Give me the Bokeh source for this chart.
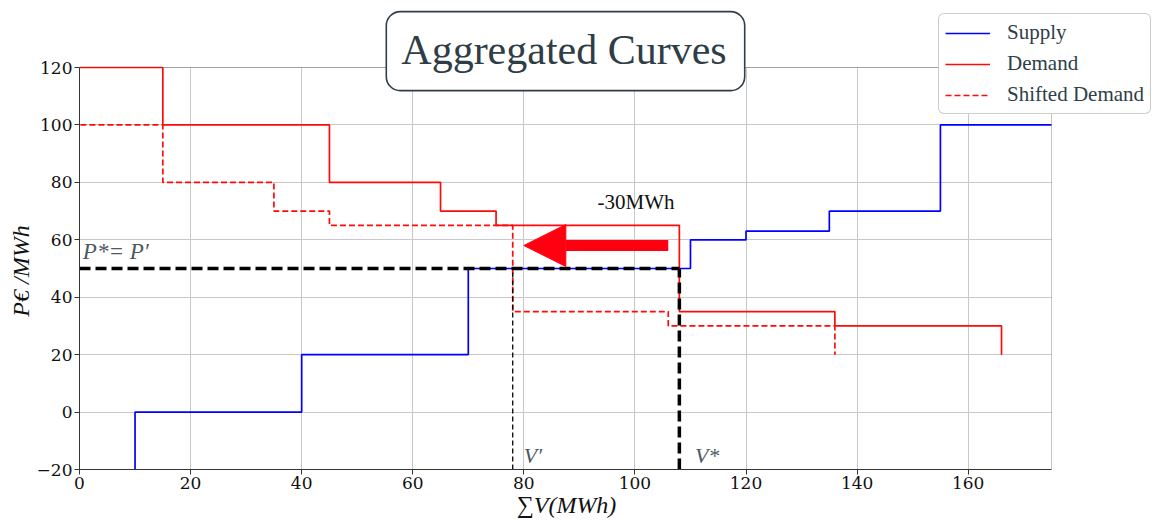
import numpy as np
from bokeh.plotting import figure
from bokeh.models import (Label, Legend, LegendItem, Arrow, NormalHead,
                          FixedTicker, Range1d, BoxAnnotation)
from bokeh.embed import file_html
from bokeh.resources import INLINE

# ---------------- data ----------------
supply_edges = [10, 40, 70, 110, 120, 135, 155, 175]
supply_prices = [0, 20, 50, 60, 63, 70, 100]
supply_floor = -20

demand_edges = [0, 15, 45, 65, 75, 108, 136, 166]
demand_prices = [120, 100, 80, 70, 65, 35, 30]
demand_floor = 20

shift = 30
shifted_edges = [e - shift for e in demand_edges]

p_star = 50
v_star = 108
v_prime = 78

arrow_start = 106
arrow_end = 80
arrow_y = 58
shift_label = "-30MWh"
shift_label_x = 100.2
shift_label_y = 73

x_min, x_max = 0, 175
y_min, y_max = -20, 120
x_ticks = [0, 20, 40, 60, 80, 100, 120, 140, 160]
y_ticks = [-20, 0, 20, 40, 60, 80, 100, 120]
y_tick_labels = ["\u221220", "0", "20", "40", "60", "80", "100", "120"]

SERIF = "Liberation Serif"
SERIF2 = "DejaVu Serif"

# ---------------- layout (pixels) ----------------
W, H = 1161, 524
axes_left, axes_right, axes_top, axes_bottom = 79, 1051, 67, 469
px_per_x = (axes_right - axes_left) / (x_max - x_min)
px_per_y = (axes_bottom - axes_top) / (y_max - y_min)
view_x_end = x_max + (W - axes_right) / px_per_x
view_y_end = y_max + axes_top / px_per_y


def step_path(edges, prices, start_floor=None, end_floor=None):
    xs, ys = [], []
    if start_floor is not None:
        xs.append(edges[0]); ys.append(start_floor)
    for i, pr in enumerate(prices):
        xs += [edges[i], edges[i + 1]]
        ys += [pr, pr]
    if end_floor is not None:
        xs.append(edges[-1]); ys.append(end_floor)
    return xs, ys


p = figure(width=W, height=H, x_range=Range1d(x_min, view_x_end),
           y_range=Range1d(y_min, view_y_end),
           output_backend="svg", toolbar_location=None,
           min_border_left=axes_left, min_border_right=0, min_border_top=0,
           min_border_bottom=H - axes_bottom)
p.background_fill_color = "white"
p.border_fill_color = "white"
p.outline_line_color = None

p.xgrid.cross_bounds = (y_min, y_max)
p.ygrid.cross_bounds = (x_min, x_max)
for g in (p.xgrid, p.ygrid):
    g.grid_line_color = "#c8c8c8"
    g.grid_line_width = 1

p.xaxis.bounds = (x_min, x_max)
p.yaxis.bounds = (y_min, y_max)
p.xaxis.ticker = FixedTicker(ticks=x_ticks)
p.yaxis.ticker = FixedTicker(ticks=y_ticks)
p.yaxis.major_label_overrides = {t: l for t, l in zip(y_ticks, y_tick_labels)}
for ax in (p.xaxis, p.yaxis):
    ax.minor_tick_line_color = None
    ax.major_tick_in = 0
    ax.major_tick_out = 5
    ax.major_tick_line_color = "#333333"
    ax.axis_line_color = "#333333"
    ax.major_label_text_font = SERIF2
    ax.major_label_text_font_size = "17px"
    ax.major_label_text_color = "#111111"
    ax.major_label_standoff = 2
    ax.axis_label_text_font = SERIF
    ax.axis_label_text_font_style = "italic"
    ax.axis_label_text_color = "#111111"
    ax.axis_label_standoff = 0
# axis labels are centred on the whole panel; trailing em spaces re-centre them on the axes box
p.yaxis.axis_label = "P\u20ac /MWh" + "\u2003" * 3
p.yaxis.axis_label_text_font_size = "24px"
p.yaxis.axis_label_standoff = 0
p.xaxis.axis_label = "\u2211V(MWh)" + "\u2003" * 4 + "\u2002"
p.xaxis.axis_label_text_font_size = "24px"

sx, sy = step_path(supply_edges, supply_prices, start_floor=supply_floor)
dx, dy = step_path(demand_edges, demand_prices, end_floor=demand_floor)
hx, hy = step_path(shifted_edges, demand_prices, end_floor=demand_floor)

r_sup = p.line(sx, sy, line_color="#0000ff", line_width=1.7)
r_dem = p.line(dx, dy, line_color="#ff0a0a", line_width=1.7)
r_shf = p.line(hx, hy, line_color="#ff0a0a", line_width=1.7, line_dash="6 3")

# equilibrium guide lines
p.line([x_min, v_star], [p_star, p_star], line_color="black", line_width=3.5, line_dash="11 5")
p.line([v_star, v_star], [y_min, p_star], line_color="black", line_width=3.5, line_dash="11 5")
p.line([v_prime, v_prime], [y_min, p_star], line_color="black", line_width=1.3, line_dash="5 3")

# axes box (spines)
p.add_layout(BoxAnnotation(left=x_min, right=x_max, bottom=y_min, top=y_max,
                           fill_alpha=0, line_color="#444444", line_width=1))

p.add_layout(Arrow(end=NormalHead(size=42, fill_color="#ff0010", line_color="#ff0010"),
                   x_start=arrow_start, y_start=arrow_y, x_end=arrow_end, y_end=arrow_y,
                   line_color="#ff0010", line_width=11))

p.add_layout(Label(x=shift_label_x, y=shift_label_y, text=shift_label, text_align="center",
                   text_baseline="middle", text_font=SERIF, text_font_size="21px",
                   text_color="#111111"))

ann_color = "#4d5861"
p.add_layout(Label(x=0.6, y=p_star + 1.5, text="P*= P\u2032", text_font=SERIF,
                   text_font_style="italic", text_font_size="23px", text_color=ann_color,
                   text_baseline="bottom"))
p.add_layout(Label(x=v_prime + 2.0, y=y_min + 0.5, text="V\u2032", text_font=SERIF,
                   text_font_style="italic", text_font_size="22px", text_color=ann_color,
                   text_baseline="bottom"))
p.add_layout(Label(x=v_star + 2.8, y=y_min + 0.5, text="V*", text_font=SERIF,
                   text_font_style="italic", text_font_size="22px", text_color=ann_color,
                   text_baseline="bottom"))

# title box
p.add_layout(Label(x=(x_min + x_max) / 2, y=125.7, text="Aggregated Curves", text_align="center",
                   text_baseline="middle", text_font=SERIF, text_font_size="42px",
                   text_color="#2f3e46", background_fill_color="white",
                   border_line_color="#2f3e46", border_line_width=1.6,
                   border_radius=14, padding=(15, 18, 15, 18)))

legend = Legend(items=[LegendItem(label="Supply", renderers=[r_sup]),
                       LegendItem(label="Demand", renderers=[r_dem]),
                       LegendItem(label="Shifted Demand", renderers=[r_shf])],
                location=(938 - axes_left, axes_bottom - 114))
legend.label_text_font = SERIF
legend.label_text_font_size = "21px"
legend.label_text_color = "#2f3e46"
legend.glyph_width = 45
legend.glyph_height = 24
legend.label_height = 24
legend.label_standoff = 17
legend.spacing = 6
legend.padding = 6
legend.margin = 0
legend.border_line_color = "#999999"
legend.border_line_width = 1.3
legend.border_radius = 6
legend.background_fill_alpha = 1
p.add_layout(legend)

open("out.html", "w").write(file_html(p, INLINE))
